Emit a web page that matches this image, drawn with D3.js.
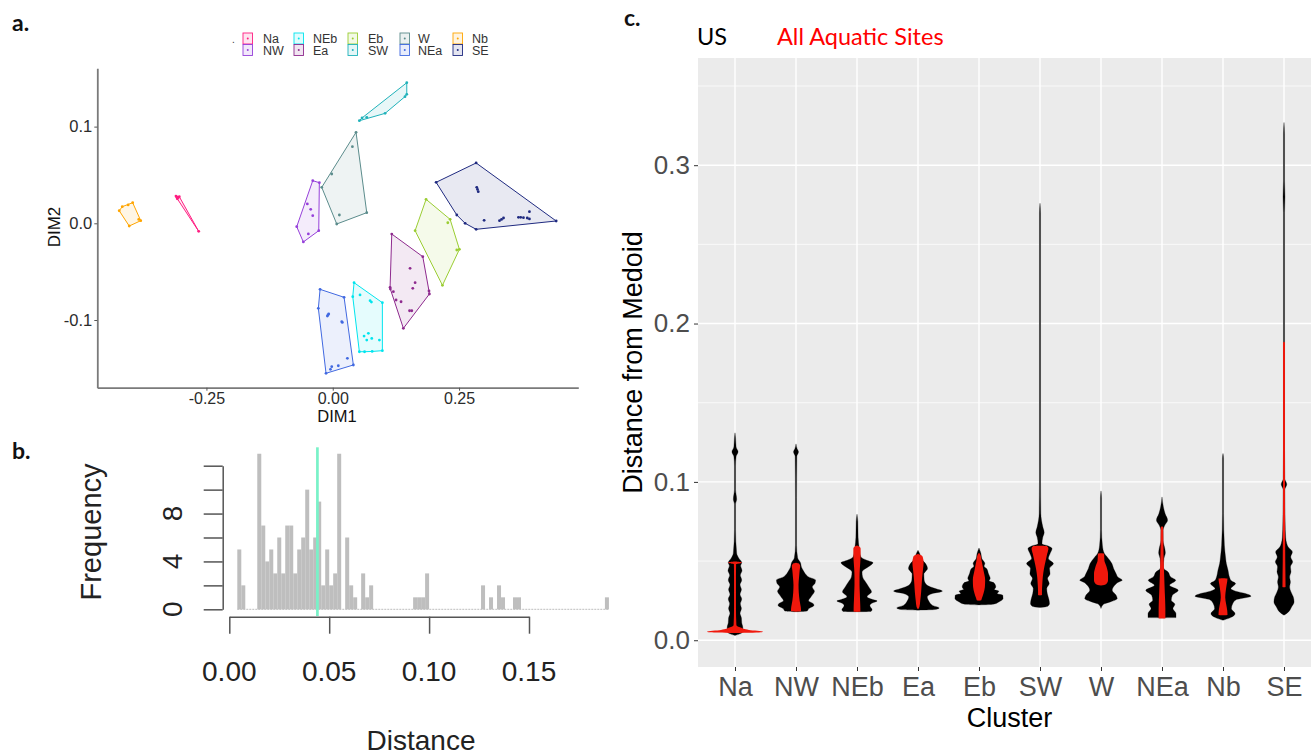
<!DOCTYPE html>
<html>
<head>
<meta charset="utf-8">
<script src="https://cdn.jsdelivr.net/npm/d3@7"></script>
<style>
  body { margin: 0; background: #fff; }
  svg { display: block; }
</style>
</head>
<body>
<svg id="fig" width="1311" height="755"></svg>
<script>
// ---------------------------------------------------------------
// Data
// ---------------------------------------------------------------
const clusters = ["Na", "NW", "NEb", "Ea", "Eb", "SW", "W", "NEa", "Nb", "SE"];

// (a) MDS site coordinates [DIM1, DIM2], one array per cluster
const mdsNa  = [[-0.3103, 0.0282], [-0.3037, 0.0275], [-0.3077, 0.0254], [-0.3060, 0.0265], [-0.3085, 0.0270], [-0.2653, -0.0083]];
const mdsNW  = [[-0.0396, 0.0441], [-0.0265, 0.0420], [-0.0277, -0.0076], [-0.0582, -0.0193], [-0.0713, -0.0035],
                [-0.0503, 0.0200], [-0.0436, 0.0145], [-0.0396, 0.0079], [-0.0483, -0.0110]];
const mdsNEb = [[0.0422, -0.0614], [0.0982, -0.0821], [0.0982, -0.1317], [0.0527, -0.1328], [0.0396, -0.0759],
                [0.0540, -0.0741], [0.0739, -0.0800], [0.0765, -0.0815], [0.0620, -0.1166], [0.0705, -0.1138],
                [0.0772, -0.1190], [0.0673, -0.1207], [0.0923, -0.1207], [0.0630, -0.1328], [0.0780, -0.1325]];
const mdsEa  = [[0.1168, -0.0111], [0.1782, -0.0345], [0.1913, -0.0731], [0.1398, -0.1086], [0.1135, -0.0662],
                [0.1530, -0.0466], [0.1630, -0.0614], [0.1584, -0.0672], [0.1200, -0.0707], [0.1253, -0.0793],
                [0.1352, -0.0811], [0.1564, -0.0904], [0.1520, -0.0904], [0.1905, -0.0700], [0.1140, -0.0680]];
const mdsEb  = [[0.1847, 0.0248], [0.2323, 0.0041], [0.2507, -0.0269], [0.2171, -0.0641], [0.1630, -0.0076],
                [0.2277, 0.0006], [0.2455, -0.0276]];
const mdsSW  = [[0.0527, 0.1061], [0.1465, 0.1454], [0.1465, 0.1334], [0.1036, 0.1137], [0.0673, 0.1096],
                [0.0580, 0.1090], [0.1430, 0.1310]];
const mdsW   = [[0.0461, 0.0941], [0.0673, 0.0110], [0.0079, -0.0007], [-0.0218, 0.0372], [0.0389, 0.0792],
                [-0.0020, 0.0510], [0.0131, 0.0086]];
const mdsNEa = [[-0.0251, -0.0683], [0.0224, -0.0765], [0.0408, -0.1465], [-0.0133, -0.1551], [-0.0285, -0.0879],
                [-0.0107, -0.0959], [-0.0080, -0.0938], [-0.0095, -0.0948], [0.0178, -0.1018], [0.0190, -0.1025],
                [-0.0020, -0.1483], [0.0110, -0.1473], [0.0290, -0.1396], [-0.0045, -0.1510]];
const mdsNb  = [[-0.4226, 0.0130], [-0.4166, 0.0172], [-0.3960, 0.0213], [-0.3800, 0.0027], [-0.4028, -0.0028],
                [-0.4050, 0.0190], [-0.3840, 0.0040]];
const mdsSE  = [[0.2046, 0.0424], [0.2838, 0.0624], [0.4422, 0.0024], [0.2838, -0.0062], [0.2620, 0.0000],
                [0.2455, 0.0086], [0.2850, 0.0372], [0.2880, 0.0327], [0.2865, 0.0350], [0.2996, 0.0031],
                [0.3300, 0.0027], [0.3340, 0.0040], [0.3380, 0.0055], [0.3675, 0.0062], [0.3720, 0.0062],
                [0.3774, 0.0058], [0.3893, 0.0120], [0.3893, 0.0045], [0.3850, 0.0055]];
const mdsByCluster = [mdsNa, mdsNW, mdsNEb, mdsEa, mdsEb, mdsSW, mdsW, mdsNEa, mdsNb, mdsSE];

const dimXTicks = [-0.25, 0, 0.25];
const dimXTickLabels = ["-0.25", "0.00", "0.25"];
const dimYTicks = [-0.1, 0, 0.1];
const dimYTickLabels = ["-0.1", "0.0", "0.1"];

// (b) histogram of distances, bins of width 0.002 starting at 0
const histBinWidth = 0.002;
const histCounts = [
  0, 0, 5, 2, 0, 0, 0, 13, 7, 4,
  5, 3, 6, 3, 7, 7, 3, 5, 6, 10,
  5, 6, 9, 2, 5, 2, 3, 13, 0, 6,
  2, 1, 0, 3, 1, 2, 0, 0, 0, 0,
  0, 0, 0, 0, 0, 0, 1, 1, 1, 3,
  0, 0, 0, 0, 0, 0, 0, 0, 0, 0,
  0, 0, 0, 2, 0, 1, 0, 2, 1, 0,
  0, 1, 1, 0, 0, 0, 0, 0, 0, 0,
  0, 0, 0, 0, 0, 0, 0, 0, 0, 0,
  0, 0, 0, 0, 1
];
const histMean = 0.0441;
const histXTicks = [0, 0.05, 0.10, 0.15];
const histXTickLabels = ["0.00", "0.05", "0.10", "0.15"];
const histYTicks = [0, 2, 4, 6, 8, 10, 12];
const histYTickLabels = ["0", "4", "8"];
const histYLabelled = [0, 4, 8];

// (c) violin profiles per cluster: [distance from medoid, relative density]
// all sites (black)
const allSites = [
  /* Na */  [[0.131, 0], [0.128, 0.02], [0.122, 0.04], [0.119, 0.11], [0.116, 0.04], [0.110, 0.02], [0.095, 0.02],
             [0.089, 0.06], [0.086, 0.02], [0.070, 0.02], [0.055, 0.06], [0.052, 0.13], [0.049, 0.24], [0.047, 0.20],
             [0.044, 0.25], [0.041, 0.19], [0.038, 0.24], [0.035, 0.18], [0.032, 0.23], [0.029, 0.18], [0.026, 0.24],
             [0.023, 0.19], [0.020, 0.23], [0.017, 0.18], [0.014, 0.23], [0.011, 0.24], [0.008, 0.28], [0.005, 0.26],
             [0.003, 0]],
  /* NW */  [[0.124, 0], [0.121, 0.04], [0.119, 0.09], [0.116, 0.03], [0.090, 0.02], [0.060, 0.02], [0.052, 0.06],
             [0.049, 0.16], [0.046, 0.20], [0.044, 0.26], [0.042, 0.33], [0.040, 0.45], [0.038, 0.70], [0.036, 0.68],
             [0.0337, 0.58], [0.031, 0.66], [0.029, 0.60], [0.027, 0.52], [0.025, 0.45], [0.023, 0.62], [0.022, 0.64],
             [0.020, 0.46], [0.0185, 0.40], [0.018, 0]],
  /* NEb */ [[0.0796, 0], [0.075, 0.03], [0.065, 0.04], [0.058, 0.08], [0.0526, 0.14], [0.0505, 0.35], [0.049, 0.57],
             [0.0475, 0.50], [0.046, 0.37], [0.0445, 0.24], [0.043, 0.18], [0.040, 0.20], [0.037, 0.30], [0.0337, 0.42],
             [0.0305, 0.52], [0.0285, 0.40], [0.0274, 0.36], [0.0255, 0.60], [0.0248, 0.72], [0.0235, 0.55],
             [0.022, 0.46], [0.0205, 0.50], [0.0194, 0.54], [0.0182, 0.50], [0.018, 0]],
  /* Ea */  [[0.0568, 0], [0.0543, 0.07], [0.0516, 0.11], [0.0484, 0.27], [0.0453, 0.34], [0.043, 0.25], [0.042, 0.21],
             [0.038, 0.22], [0.0347, 0.33], [0.0326, 0.62], [0.031, 0.87], [0.0295, 0.52], [0.0274, 0.33],
             [0.0246, 0.39], [0.022, 0.52], [0.0204, 0.76], [0.0194, 0.60], [0.019, 0]],
  /* Eb */  [[0.0583, 0], [0.0547, 0.07], [0.0516, 0.10], [0.0484, 0.21], [0.0468, 0.18], [0.0453, 0.27], [0.042, 0.34],
             [0.039, 0.40], [0.0375, 0.36], [0.0362, 0.54], [0.0337, 0.60], [0.032, 0.55], [0.031, 0.71],
             [0.0295, 0.65], [0.0284, 0.85], [0.0263, 0.86], [0.0242, 0.71], [0.0227, 0.50], [0.0223, 0]],
  /* SW */  [[0.276, 0], [0.270, 0.02], [0.100, 0.02], [0.080, 0.03],
             [0.0716, 0.10], [0.068, 0.15], [0.065, 0.10], [0.061, 0.07], [0.0595, 0.30], [0.0579, 0.43],
             [0.0547, 0.36], [0.0516, 0.30], [0.0484, 0.48], [0.0453, 0.34], [0.042, 0.36], [0.039, 0.27],
             [0.0358, 0.33], [0.0326, 0.24], [0.0295, 0.26], [0.0263, 0.31], [0.0232, 0.34], [0.0215, 0.28],
             [0.0206, 0]],
  /* W */   [[0.0943, 0], [0.090, 0.02], [0.070, 0.02], [0.060, 0.05], [0.0547, 0.12], [0.0526, 0.22], [0.0484, 0.39],
             [0.0453, 0.45], [0.042, 0.54], [0.040, 0.60], [0.0379, 0.76], [0.0365, 0.60], [0.0347, 0.49],
             [0.0316, 0.40], [0.0284, 0.54], [0.0263, 0.58], [0.0242, 0.33], [0.023, 0.12], [0.0221, 0.06], [0.020, 0]],
  /* NEa */ [[0.0905, 0], [0.0842, 0.05], [0.080, 0.11], [0.0758, 0.20], [0.0726, 0.10], [0.0695, 0.04], [0.063, 0.04],
             [0.0579, 0.10], [0.0552, 0.12], [0.0516, 0.07], [0.0463, 0.05], [0.0443, 0.12], [0.0432, 0.21],
             [0.040, 0.31], [0.0379, 0.49], [0.0347, 0.27], [0.0316, 0.58], [0.0284, 0.37], [0.0253, 0.33],
             [0.0227, 0.46], [0.020, 0.39], [0.0168, 0.50], [0.0143, 0.50], [0.0142, 0]],
  /* Nb */  [[0.118, 0], [0.115, 0.02], [0.080, 0.02], [0.060, 0.05], [0.0526, 0.09], [0.0484, 0.12], [0.0442, 0.18],
             [0.040, 0.23], [0.0375, 0.30], [0.0358, 0.45], [0.034, 0.35], [0.0326, 0.28], [0.031, 0.45],
             [0.0295, 0.80], [0.0278, 1.00], [0.0265, 0.70], [0.0257, 0.48], [0.0232, 0.35], [0.020, 0.30],
             [0.0168, 0.43], [0.0143, 0.27], [0.0126, 0]],
  /* SE */  [[0.327, 0], [0.320, 0.02], [0.290, 0.02], [0.280, 0.035], [0.270, 0.02], [0.120, 0.02], [0.102, 0.03],
             [0.0985, 0.10], [0.095, 0.03], [0.075, 0.04], [0.065, 0.06], [0.061, 0.10], [0.0589, 0.15],
             [0.0558, 0.30], [0.0526, 0.24], [0.0495, 0.31], [0.0463, 0.23], [0.0432, 0.25], [0.040, 0.20],
             [0.0368, 0.23], [0.0337, 0.20], [0.0305, 0.25], [0.0274, 0.33], [0.0242, 0.36], [0.021, 0.27],
             [0.0179, 0.16], [0.0158, 0]]
];
// aquatic sites only (red)
const aquaticSites = [
  /* Na */  [[0.0497, 0], [0.0492, 0.24], [0.0486, 0.20], [0.048, 0.04], [0.040, 0.035], [0.020, 0.035], [0.0095, 0.05],
             [0.008, 0.20], [0.0065, 0.50], [0.0055, 1.00], [0.0050, 0.95], [0.0045, 0]],
  /* NW */  [[0.049, 0], [0.0485, 0.10], [0.047, 0.15], [0.044, 0.13], [0.040, 0.11], [0.035, 0.09], [0.030, 0.10],
             [0.025, 0.13], [0.021, 0.17], [0.0185, 0.18], [0.018, 0]],
  /* NEb */ [[0.0598, 0], [0.0592, 0.08], [0.058, 0.13], [0.055, 0.13], [0.050, 0.12], [0.045, 0.10], [0.040, 0.09],
             [0.035, 0.09], [0.030, 0.10], [0.025, 0.11], [0.020, 0.12], [0.018, 0.12], [0.0179, 0]],
  /* Ea */  [[0.0545, 0], [0.0538, 0.10], [0.0525, 0.17], [0.049, 0.20], [0.045, 0.18], [0.040, 0.15], [0.035, 0.13],
             [0.030, 0.11], [0.025, 0.08], [0.021, 0.05], [0.0195, 0]],
  /* Eb */  [[0.0552, 0], [0.054, 0.05], [0.0505, 0.09], [0.0442, 0.16], [0.038, 0.22], [0.0337, 0.21], [0.0295, 0.16],
             [0.0263, 0.10], [0.0253, 0.08], [0.025, 0]],
  /* SW */  [[0.0596, 0], [0.0594, 0.25], [0.058, 0.30], [0.0547, 0.26], [0.050, 0.20], [0.045, 0.14], [0.040, 0.10],
             [0.035, 0.08], [0.031, 0.07], [0.0285, 0.07], [0.0283, 0]],
  /* W */   [[0.0549, 0], [0.0547, 0.11], [0.0505, 0.12], [0.0463, 0.20], [0.042, 0.25], [0.0379, 0.25],
             [0.0354, 0.18], [0.0345, 0]],
  /* NEa */ [[0.072, 0], [0.0715, 0.04], [0.060, 0.05], [0.050, 0.06], [0.040, 0.08], [0.030, 0.10], [0.020, 0.12],
             [0.0138, 0.12], [0.0137, 0]],
  /* Nb */  [[0.0392, 0], [0.039, 0.16], [0.035, 0.13], [0.030, 0.09], [0.027, 0.08], [0.023, 0.11], [0.019, 0.15],
             [0.016, 0.16], [0.0158, 0]],
  /* SE */  [[0.1885, 0], [0.188, 0.035], [0.100, 0.035], [0.050, 0.045], [0.0337, 0.055], [0.0335, 0]]
];
const distTicks = [0, 0.1, 0.2, 0.3];
const distTickLabels = ["0.0", "0.1", "0.2", "0.3"];
const distMinorTicks = [0.05, 0.15, 0.25, 0.35];

// ---------------------------------------------------------------
// Styles
// ---------------------------------------------------------------
const clusterColors = {
  Na: "#FF1E82", NW: "#9640DA", NEb: "#00E5EE", Ea: "#8E2A8E", Eb: "#9ACD32",
  SW: "#20B2BA", W: "#5B8C8C", NEa: "#4169E1", Nb: "#FFA500", SE: "#1F2A80"
};
const sans = "'Liberation Sans', Arial, Helvetica, sans-serif";
const humanist = "Lato, 'Open Sans', sans-serif";
const violinRed = "#F0180C";

const svg = d3.select("#fig");
svg.append("rect").attr("width", 1311).attr("height", 755).attr("fill", "#fff");

// Panel letters
[["a.", 12, 31], ["b.", 12, 459], ["c.", 624, 26]].forEach(([t, x, y]) => {
  svg.append("text").attr("x", x).attr("y", y).text(t)
    .attr("font-family", humanist).attr("font-size", 23).attr("font-weight", 700).attr("fill", "#111");
});

// ---------------------------------------------------------------
// (a) MDS ordination with cluster hulls
// ---------------------------------------------------------------
const xA = d3.scaleLinear().domain([-0.466, 0.486]).range([97.3, 578.3]);
const yA = d3.scaleLinear().domain([-0.170, 0.1603]).range([387.7, 68.3]);
const gA = svg.append("g");

clusters.forEach((name, i) => {
  const col = clusterColors[name];
  const pts = mdsByCluster[i].map(p => [xA(p[0]), yA(p[1])]);
  const hull = d3.polygonHull(pts);
  gA.append("path")
    .attr("d", "M" + hull.map(p => p.join(",")).join("L") + "Z")
    .attr("fill", col).attr("fill-opacity", 0.1)
    .attr("stroke", col).attr("stroke-width", 1).attr("stroke-linejoin", "round");
  gA.append("g").selectAll("circle").data(pts).join("circle")
    .attr("cx", d => d[0]).attr("cy", d => d[1]).attr("r", 1.4).attr("fill", col);
});

function styleAxis(g, opts) {
  g.select(".domain").attr("stroke", opts.line).attr("stroke-width", opts.lineWidth);
  g.selectAll(".tick line").attr("stroke", opts.tick).attr("stroke-width", opts.tickWidth || 1);
  g.selectAll(".tick text").attr("font-family", sans).attr("font-size", opts.fontSize).attr("fill", opts.text);
}

const axAx = gA.append("g").attr("transform", "translate(0,387.7)")
  .call(d3.axisBottom(xA).tickValues(dimXTicks).tickFormat((d, i) => dimXTickLabels[i])
    .tickSize(3).tickSizeOuter(0).tickPadding(2));
styleAxis(axAx, { line: "#7a7a7a", lineWidth: 1.8, tick: "#555", fontSize: 16, text: "#2b2b2b" });
const axAy = gA.append("g").attr("transform", "translate(97.3,0)")
  .call(d3.axisLeft(yA).tickValues(dimYTicks).tickFormat((d, i) => dimYTickLabels[i])
    .tickSize(3).tickSizeOuter(0).tickPadding(2));
styleAxis(axAy, { line: "#7a7a7a", lineWidth: 1.8, tick: "#555", fontSize: 16.5, text: "#2b2b2b" });

gA.append("text").attr("x", 337).attr("y", 422).attr("text-anchor", "middle")
  .attr("font-family", sans).attr("font-size", 16.5).attr("fill", "#111").text("DIM1");
gA.append("text").attr("transform", "translate(60,227) rotate(-90)").attr("text-anchor", "middle")
  .attr("font-family", sans).attr("font-size", 17).attr("fill", "#111").text("DIM2");

// legend: two rows, filled column by column
const legA = gA.append("g");
legA.append("text").attr("x", 232).attr("y", 43).attr("font-family", sans).attr("font-size", 10)
  .attr("fill", "#333").text(".");
const legendCols = [243, 294, 348, 400, 453];
const legendTextCols = [263, 313, 368, 418, 472];
clusters.forEach((name, i) => {
  const col = clusterColors[name];
  const c = Math.floor(i / 2), r = i % 2;
  const bx = legendCols[c], by = 33 + r * 11.5;
  legA.append("rect").attr("x", bx).attr("y", by).attr("width", 9.5).attr("height", 11)
    .attr("fill", col).attr("fill-opacity", 0.12).attr("stroke", col).attr("stroke-width", 0.9);
  legA.append("circle").attr("cx", bx + 4.75).attr("cy", by + 5.5).attr("r", 1).attr("fill", col);
  legA.append("text").attr("x", legendTextCols[c]).attr("y", by + 10)
    .attr("font-family", sans).attr("font-size", 12.5).attr("fill", "#333").text(name);
});

// ---------------------------------------------------------------
// (b) histogram of distances
// ---------------------------------------------------------------
const xB = d3.scaleLinear().domain([0, 0.15]).range([229.3, 529]);
const yB = d3.scaleLinear().domain([0, 12]).range([609.3, 465.7]);
const gB = svg.append("g");
const binsB = histCounts.map((c, i) => ({ x0: i * histBinWidth, x1: (i + 1) * histBinWidth, count: c }));
const firstBin = binsB.findIndex(b => b.count > 0);
const lastBin = binsB.length - 1;

// empty bins collapse to a line along zero
gB.append("line")
  .attr("x1", xB(binsB[firstBin].x0)).attr("x2", xB(binsB[lastBin].x1))
  .attr("y1", yB(0)).attr("y2", yB(0))
  .attr("stroke", "#bdbdbd").attr("stroke-width", 1).attr("stroke-dasharray", "2,1");
gB.append("g").selectAll("rect").data(binsB.filter(b => b.count > 0)).join("rect")
  .attr("x", d => xB(d.x0)).attr("width", d => xB(d.x1) - xB(d.x0))
  .attr("y", d => yB(d.count)).attr("height", d => yB(0) - yB(d.count))
  .attr("fill", "#bebebe");

gB.append("line")
  .attr("x1", xB(histMean)).attr("x2", xB(histMean)).attr("y1", 447.3).attr("y2", 616)
  .attr("stroke", "#79F2C8").attr("stroke-width", 2.7);

const axBy = gB.append("g").attr("transform", "translate(222.7,0)")
  .call(d3.axisLeft(yB).tickValues(histYTicks).tickFormat("").tickSize(19).tickSizeOuter(0));
styleAxis(axBy, { line: "#555", lineWidth: 1.5, tick: "#555", tickWidth: 1.5, fontSize: 26, text: "#222" });
gB.append("g").selectAll("text").data(histYLabelled).join("text")
  .attr("transform", (d, i) => `translate(182,${yB(d)}) rotate(-90)`)
  .attr("text-anchor", "middle").attr("font-family", sans).attr("font-size", 28).attr("fill", "#222")
  .text((d, i) => histYTickLabels[i]);

const axBx = gB.append("g").attr("transform", "translate(0,616.7)")
  .call(d3.axisBottom(xB).tickValues(histXTicks).tickFormat("").tickSize(17).tickSizeOuter(0));
styleAxis(axBx, { line: "#555", lineWidth: 1.5, tick: "#555", tickWidth: 1.5, fontSize: 26, text: "#222" });
gB.append("g").selectAll("text").data(histXTicks).join("text")
  .attr("x", d => xB(d)).attr("y", 681).attr("text-anchor", "middle")
  .attr("font-family", sans).attr("font-size", 28).attr("fill", "#222")
  .text((d, i) => histXTickLabels[i]);

gB.append("text").attr("x", 421).attr("y", 750).attr("text-anchor", "middle")
  .attr("font-family", sans).attr("font-size", 28).attr("fill", "#222").text("Distance");
gB.append("text").attr("transform", "translate(101,532) rotate(-90)").attr("text-anchor", "middle")
  .attr("font-family", sans).attr("font-size", 29).attr("fill", "#222").text("Frequency");

// ---------------------------------------------------------------
// (c) violins of distance from medoid by cluster
// ---------------------------------------------------------------
const plotC = { left: 698, right: 1321, top: 58, bottom: 667 };
const xC = d3.scalePoint().domain(clusters).range([735, 1284]);
const yC = d3.scaleLinear().domain([-0.0169, 0.3677]).range([plotC.bottom, plotC.top]);
const wC = d3.scaleLinear().domain([0, 1]).range([0, 28]);
const gC = svg.append("g");

gC.append("text").attr("x", 697).attr("y", 45).attr("font-family", humanist).attr("font-size", 23.5)
  .attr("fill", "#000").text("US");
gC.append("text").attr("x", 777).attr("y", 45).attr("font-family", humanist).attr("font-size", 23.5)
  .attr("fill", "#FF0000").text("All Aquatic Sites");

gC.append("rect").attr("x", plotC.left).attr("y", plotC.top)
  .attr("width", plotC.right - plotC.left).attr("height", plotC.bottom - plotC.top).attr("fill", "#EBEBEB");
gC.append("g").selectAll("line").data(distMinorTicks).join("line")
  .attr("x1", plotC.left).attr("x2", plotC.right).attr("y1", d => yC(d)).attr("y2", d => yC(d))
  .attr("stroke", "#fff").attr("stroke-width", 0.7);
gC.append("g").selectAll("line").data(distTicks).join("line")
  .attr("x1", plotC.left).attr("x2", plotC.right).attr("y1", d => yC(d)).attr("y2", d => yC(d))
  .attr("stroke", "#fff").attr("stroke-width", 1.4);
gC.append("g").selectAll("line").data(clusters).join("line")
  .attr("x1", d => xC(d)).attr("x2", d => xC(d)).attr("y1", plotC.top).attr("y2", plotC.bottom)
  .attr("stroke", "#fff").attr("stroke-width", 1.4);

// monotone interpolation along the distance axis keeps thin spikes from bulging
function violinPath(name, profile) {
  const cx = xC(name);
  return d3.area()
    .y(d => yC(d[0]))
    .x0(d => cx - wC(d[1]))
    .x1(d => cx + wC(d[1]))
    .curve(d3.curveMonotoneY)(profile);
}
clusters.forEach((name, i) => {
  gC.append("path").attr("d", violinPath(name, allSites[i]))
    .attr("fill", "#000").attr("stroke", "#000").attr("stroke-width", 0.4).attr("stroke-opacity", 0.7);
});
clusters.forEach((name, i) => {
  gC.append("path").attr("d", violinPath(name, aquaticSites[i]))
    .attr("fill", violinRed).attr("stroke", "none");
});

const axCy = gC.append("g").attr("transform", `translate(${plotC.left},0)`)
  .call(d3.axisLeft(yC).tickValues(distTicks).tickFormat((d, i) => distTickLabels[i])
    .tickSize(4).tickPadding(4));
axCy.select(".domain").remove();
axCy.selectAll(".tick line").attr("stroke", "#333").attr("stroke-width", 1);
axCy.selectAll(".tick text").attr("font-family", sans).attr("font-size", 26).attr("fill", "#4D4D4D");

const axCx = gC.append("g").attr("transform", `translate(0,${plotC.bottom})`)
  .call(d3.axisBottom(xC).tickSize(4).tickPadding(6));
axCx.select(".domain").remove();
axCx.selectAll(".tick line").attr("stroke", "#333").attr("stroke-width", 1);
axCx.selectAll(".tick text").attr("font-family", sans).attr("font-size", 27).attr("fill", "#4D4D4D");

gC.append("text").attr("x", (plotC.left + plotC.right) / 2).attr("y", 727).attr("text-anchor", "middle")
  .attr("font-family", sans).attr("font-size", 27).attr("fill", "#000").text("Cluster");
gC.append("text").attr("transform", `translate(642,${(plotC.top + plotC.bottom) / 2}) rotate(-90)`)
  .attr("text-anchor", "middle").attr("font-family", sans).attr("font-size", 27).attr("fill", "#000")
  .text("Distance from Medoid");
</script>
</body>
</html>
